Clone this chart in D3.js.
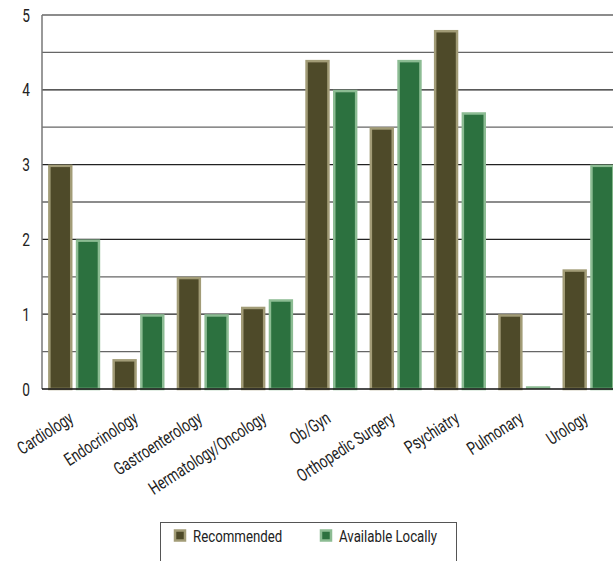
<!DOCTYPE html>
<html><head><meta charset="utf-8">
<script src="https://cdn.jsdelivr.net/npm/d3@7"></script>
<style>
body{margin:0;background:#fff;}
text{font-family:Roboto,"Liberation Sans",sans-serif;fill:#222;}
</style></head>
<body><svg id="c" width="613" height="561"></svg>
<script>
const categories = ["Cardiology","Endocrinology","Gastroenterology","Hermatology/Oncology","Ob/Gyn","Orthopedic Surgery","Psychiatry","Pulmonary","Urology"];
const recommended = [3.0, 0.4, 1.5, 1.1, 4.4, 3.5, 4.8, 1.0, 1.6];
const availableLocally = [2.0, 1.0, 1.0, 1.2, 4.0, 4.4, 3.7, 0.0, 3.0];
const seriesNames = ["Recommended","Available Locally"];
const yTicks = [0,1,2,3,4,5];

(function(){
const svg = d3.select("#c");
const mLeft = 42, mRight = 620.7, mTop = 15, mBottom = 389;
const x = d3.scaleBand().domain(categories).range([mLeft, mRight]).paddingInner(0.19).paddingOuter(0.095);
const sub = d3.scaleBand().domain(seriesNames).range([0, x.bandwidth()]).paddingInner(0.12);
const y = d3.scaleLinear().domain([0,5]).range([mBottom, mTop]);

const fills = {"Recommended":"#4e4a29","Available Locally":"#2c713f"};
const strokes = {"Recommended":"#a29c77","Available Locally":"#8cbc93"};

const grid = d3.range(0.5, 5.01, 0.5);
svg.append("g").selectAll("line").data(grid).join("line")
  .attr("x1", mLeft).attr("x2", 613).attr("y1", d=>y(d)).attr("y2", d=>y(d))
  .attr("stroke", d=> (Number.isInteger(d) && d<5) ? "#222" : "#666").attr("stroke-width", 1.3);

svg.append("line").attr("x1", mLeft).attr("x2", mLeft).attr("y1", y(5)).attr("y2", mBottom)
  .attr("stroke","#777").attr("stroke-width",1.5);

svg.append("g").selectAll("text").data(yTicks).join("text")
  .attr("transform", d=>`translate(30,${y(d)}) scale(0.72,1)`)
  .attr("dy","0.35em").attr("text-anchor","end")
  .attr("font-size", 19).text(d=>d);

const rows = categories.map((c,i)=>({c, vals:[{s:seriesNames[0], v:recommended[i]},{s:seriesNames[1], v:availableLocally[i]}]}));
const g = svg.append("g").selectAll("g").data(rows).join("g").attr("transform", d=>`translate(${x(d.c)},0)`);
g.selectAll("rect").data(d=>d.vals).join("rect")
  .attr("x", d=>sub(d.s)+1.25).attr("width", sub.bandwidth()-2.5)
  .attr("y", d=>Math.min(y(d.v)+1.25, mBottom-1.5))
  .attr("height", d=>Math.max(0.01, mBottom - y(d.v) - 1.25))
  .attr("fill", d=>fills[d.s]).attr("stroke", d=>strokes[d.s]).attr("stroke-width", 2.5);

svg.append("line").attr("x1", mLeft).attr("x2", 613).attr("y1", mBottom).attr("y2", mBottom)
  .attr("stroke","#111").attr("stroke-width",1.5);

svg.append("g").selectAll("text").data(categories).join("text")
  .attr("transform", d=>`translate(${x(d)+x.bandwidth()/2-3},${mBottom+27}) rotate(-33) scale(0.73,1)`)
  .attr("text-anchor","end").attr("dy","0.35em").attr("font-size", 18).text(d=>d);

svg.append("rect").attr("x",160.5).attr("y",522.5).attr("width",296).attr("height",60)
  .attr("fill","#fff").attr("stroke","#555").attr("stroke-width",1);
const legX = [175, 321];
seriesNames.forEach((s,i)=>{
  svg.append("rect").attr("x", legX[i]).attr("y", 530.5).attr("width", 10).attr("height", 10)
    .attr("fill", fills[s]).attr("stroke", strokes[s]).attr("stroke-width", 2.5);
  svg.append("text").attr("transform", `translate(${legX[i]+18},536) scale(0.78,1)`)
    .attr("dy","0.35em").attr("font-size", 17).text(s);
});
})();
</script></body></html>
